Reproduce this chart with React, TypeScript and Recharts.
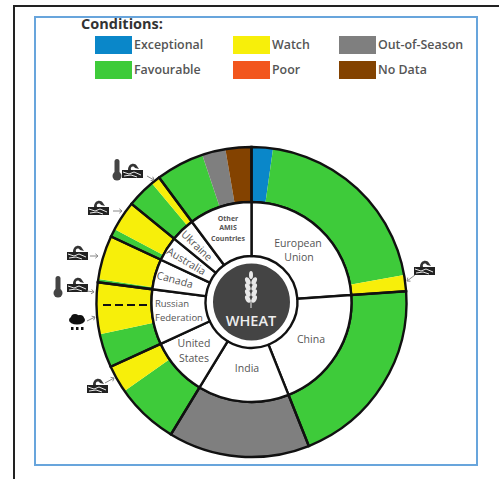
import React from 'react';
import { PieChart, Pie, Cell, Legend } from 'recharts';

// ring shares, in degrees of the circle, clockwise from 12 o'clock
const countries = ['European Union', 'China', 'India', 'United States', 'Russian Federation', 'Canada', 'Australia', 'Ukraine', 'Other AMIS Countries'];
const countryShares = [86, 72.3, 53, 34, 32, 17.7, 14.3, 14.1, 36.6];

const segmentConditions = [
    'Exceptional', 'Favourable', 'Watch',
    'Favourable',
    'Out-of-Season',
    'Favourable', 'Watch',
    'Favourable', 'Watch',
    'Favourable', 'Watch',
    'Favourable', 'Watch',
    'Favourable', 'Watch',
    'Favourable', 'Out-of-Season', 'No Data',
];
const segmentShares = [
    8, 72, 6,
    72.3,
    53,
    23.7, 10.3,
    12.7, 19.3,
    1.2, 16.5,
    3, 11.3,
    10.7, 3.4,
    18.1, 8.8, 9.7,
];

const conditionColors: Record<string, string> = {
    Exceptional: '#0a87c9',
    Favourable: '#3ecb3a',
    Watch: '#f7ef0a',
    Poor: '#f2561d',
    'Out-of-Season': '#7f7f7f',
    'No Data': '#834200',
};

const legendItems = [
    { name: 'Exceptional', x: 95, y: 36 },
    { name: 'Favourable', x: 95, y: 61 },
    { name: 'Watch', x: 233, y: 36 },
    { name: 'Poor', x: 233, y: 61 },
    { name: 'Out-of-Season', x: 339, y: 36 },
    { name: 'No Data', x: 339, y: 61 },
];

const countryData = countries.map((name, i) => ({ name, value: countryShares[i] }));
const segmentData = segmentConditions.map((name, i) => ({ name, value: segmentShares[i] }));
const hubData = [{ name: 'WHEAT', value: 1 }];

const CX = 251.5;
const CY = 302;
const FONT = '"Open Sans", sans-serif';
const LABEL = '#555';

const ConditionLegend = () => (
    <div style={{ position: 'absolute', left: 0, top: 0, width: 499, height: 90, fontFamily: FONT }}>
        <div style={{ position: 'absolute', left: 81, top: 14, fontSize: 14.5, fontWeight: 700, color: '#333' }}>Conditions:</div>
        {legendItems.map((item) => (
            <React.Fragment key={item.name}>
                <div style={{ position: 'absolute', left: item.x, top: item.y, width: 37, height: 18, background: conditionColors[item.name] }} />
                <div style={{ position: 'absolute', left: item.x + 39, top: item.y, fontSize: 12.4, fontWeight: 600, color: '#555', whiteSpace: 'nowrap' }}>{item.name}</div>
            </React.Fragment>
        ))}
    </div>
);

const Soil = ({ x, y }: { x: number; y: number }) => (
    <g transform={`translate(${x},${y})`}>
        <path d="M-5 -2 C-5 -9 2 -10 4 -6 L6 -3 L2 -4 C0 -7 -3 -5 -2 -2 Z" fill="#333" />
        <rect x={-11} y={-2} width={21} height={8} fill="#222" />
        <path d="M-10 0 L-4 2 L1 0 L8 3 M-9 4 L-2 3 L4 5" stroke="#fff" strokeWidth={0.9} fill="none" />
    </g>
);

const Thermometer = ({ x, y }: { x: number; y: number }) => (
    <g fill="#444">
        <rect x={x - 2.5} y={y - 11} width={5} height={18} rx={2.5} />
        <circle cx={x} cy={y + 6} r={4.5} />
    </g>
);

const RainCloud = ({ x, y }: { x: number; y: number }) => (
    <g fill="#111">
        <ellipse cx={x} cy={y - 2} rx={8} ry={4.5} />
        <circle cx={x - 2} cy={y - 4} r={4} />
        <circle cx={x + 3} cy={y - 3} r={4} />
        <rect x={x - 6} y={y + 5} width={2.5} height={3} />
        <rect x={x - 1} y={y + 5} width={2.5} height={3} />
        <rect x={x + 4} y={y + 5} width={2.5} height={3} />
    </g>
);

const Pointer = ({ x1, y1, x2, y2 }: { x1: number; y1: number; x2: number; y2: number }) => {
    const a = Math.atan2(y2 - y1, x2 - x1);
    const h = 3.5;
    return (
        <g stroke="#888" strokeWidth={1} fill="none">
            <line x1={x1} y1={y1} x2={x2} y2={y2} />
            <polyline
                points={`${x2 - h * Math.cos(a - 0.7)},${y2 - h * Math.sin(a - 0.7)} ${x2},${y2} ${x2 - h * Math.cos(a + 0.7)},${y2 - h * Math.sin(a + 0.7)}`}
            />
        </g>
    );
};

const WheatEar = ({ x, y }: { x: number; y: number }) => (
    <g transform={`translate(${x},${y})`} fill="#e8e8e8">
        <ellipse cx={0} cy={-15} rx={2} ry={4} />
        {[-9, -3, 3, 9].map((dy) => (
            <React.Fragment key={dy}>
                <ellipse cx={-3.2} cy={dy} rx={2.4} ry={4} transform={`rotate(-25 -3.2 ${dy})`} />
                <ellipse cx={3.2} cy={dy} rx={2.4} ry={4} transform={`rotate(25 3.2 ${dy})`} />
            </React.Fragment>
        ))}
        <rect x={-0.5} y={10} width={1} height={8} />
    </g>
);

const RingLabel = ({ x, y, text, rotate = 0, size = 10.5, bold = false }: { x: number; y: number; text: string; rotate?: number; size?: number; bold?: boolean }) => (
    <text
        x={x}
        y={y}
        textAnchor="middle"
        dominantBaseline="central"
        fontFamily={FONT}
        fontSize={size}
        fontWeight={bold ? 700 : 400}
        fill={LABEL}
        transform={rotate ? `rotate(${rotate} ${x} ${y})` : undefined}
    >
        {text}
    </text>
);

export default function App() {
    return (
        <div style={{ position: 'absolute', left: 0, top: 0, width: 499, height: 479, background: '#fff', overflow: 'hidden' }}>
            <div style={{ position: 'absolute', left: 13, top: 5, width: 486, height: 474, borderLeft: '2px solid #222', borderTop: '2px solid #222', boxSizing: 'border-box' }} />
            <div style={{ position: 'absolute', left: 34, top: 16, width: 444, height: 450, border: '2px solid #68a5dc', boxSizing: 'border-box' }} />
            <PieChart width={499} height={479} margin={{ top: 0, right: 0, bottom: 0, left: 0 }} style={{ position: 'absolute', left: 0, top: 0 }}>
                <Pie
                    data={segmentData}
                    dataKey="value"
                    cx={CX}
                    cy={CY}
                    innerRadius={100}
                    outerRadius={155}
                    startAngle={90}
                    endAngle={-270}
                    stroke="none"
                    legendType="none"
                    isAnimationActive={false}
                >
                    {segmentData.map((entry, index) => (
                        <Cell key={`seg-${index}`} fill={conditionColors[entry.name]} />
                    ))}
                </Pie>
                <Pie
                    data={countryData}
                    dataKey="value"
                    cx={CX}
                    cy={CY}
                    innerRadius={100}
                    outerRadius={155}
                    startAngle={90}
                    endAngle={-270}
                    fill="none"
                    stroke="#111"
                    strokeWidth={2.4}
                    legendType="none"
                    isAnimationActive={false}
                />
                <Pie
                    data={countryData}
                    dataKey="value"
                    cx={CX}
                    cy={CY}
                    innerRadius={46}
                    outerRadius={100}
                    startAngle={90}
                    endAngle={-270}
                    fill="#fff"
                    stroke="#111"
                    strokeWidth={2.4}
                    legendType="none"
                    isAnimationActive={false}
                />
                <Pie
                    data={hubData}
                    dataKey="value"
                    cx={CX}
                    cy={CY}
                    innerRadius={0}
                    outerRadius={38.5}
                    startAngle={90}
                    endAngle={-270}
                    fill="#444"
                    stroke="none"
                    legendType="none"
                    isAnimationActive={false}
                />
                <Legend content={<ConditionLegend />} wrapperStyle={{ left: 0, top: 0, width: 499, height: 90 }} />
            </PieChart>

            {/* recharts paints pies above its svg children, so the labels sit in their own layer */}
            <svg width={499} height={479} style={{ position: 'absolute', left: 0, top: 0, pointerEvents: 'none' }}>
                <line x1={103} y1={305} x2={150} y2={305} stroke="#111" strokeWidth={2} strokeDasharray="8 4" />

                <RingLabel x={298} y={243} text="European" />
                <RingLabel x={299} y={257} text="Union" />
                <RingLabel x={311} y={339} text="China" />
                <RingLabel x={247} y={368} text="India" />
                <RingLabel x={194} y={343} text="United" />
                <RingLabel x={194} y={358} text="States" />
                <RingLabel x={172} y={303} text="Russian" size={9.5} />
                <RingLabel x={179} y={317} text="Federation" size={9.5} />
                <RingLabel x={175} y={279.5} text="Canada" rotate={15} />
                <RingLabel x={186.5} y={261} text="Australia" rotate={31} />
                <RingLabel x={197} y={245.5} text="Ukraine" rotate={44} />
                <RingLabel x={228} y={218} text="Other" size={7} bold />
                <RingLabel x={228} y={227.5} text="AMIS" size={7} bold />
                <RingLabel x={228} y={238} text="Countries" size={7} bold />

                <WheatEar x={251} y={290} />
                <text x={251} y={326} textAnchor="middle" fontFamily={FONT} fontSize={14.5} fontWeight={600} fill="#eee">WHEAT</text>

                <Thermometer x={117} y={170} />
                <Soil x={133} y={172} />
                <Pointer x1={147} y1={176} x2={154} y2={180} />
                <Soil x={99} y={209} />
                <Pointer x1={113} y1={211} x2={122} y2={211} />
                <Soil x={78} y={254} />
                <Pointer x1={90} y1={256} x2={98} y2={256} />
                <Thermometer x={58} y={287} />
                <Soil x={78} y={286} />
                <Pointer x1={87} y1={291} x2={94} y2={292} />
                <RainCloud x={77} y={322} />
                <Pointer x1={87} y1={321} x2={95} y2={317} />
                <Soil x={98} y={387} />
                <Pointer x1={105} y1={383} x2={114} y2={378} />
                <Soil x={425} y={269} />
                <Pointer x1={415} y1={275} x2={407} y2={281} />
            </svg>
        </div>
    );
}
